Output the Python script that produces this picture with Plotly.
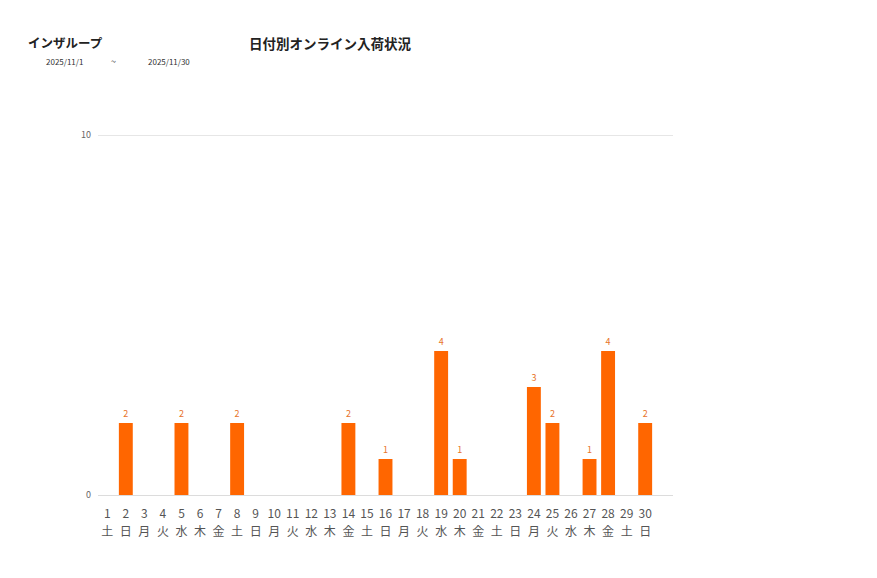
import plotly.graph_objects as go

days = list(range(1, 31))
weekdays = ["土","日","月","火","水","木","金","土","日","月","火","水","木","金","土",
            "日","月","火","水","木","金","土","日","月","火","水","木","金","土","日"]
values = [0,2,0,0,2,0,0,2,0,0,0,0,0,2,0,1,0,0,4,1,0,0,0,3,2,0,1,4,0,2]

labels = [str(v) if v > 0 else "" for v in values]

JP = "Noto Sans CJK JP"
L, R, T, B = 90, 212, 109, 91
W, H = 877, 578
fig = go.Figure()
fig.add_trace(go.Bar(
    x=days, y=values, width=0.75,
    marker=dict(color="#FF6600", line=dict(width=0)),
    text=labels, textposition="outside", cliponaxis=False,
    textfont=dict(color="#E8742A", size=9, family=JP),
    hoverinfo="skip",
))
fig.add_trace(go.Scatter(
    x=days, y=[0] * len(days), xaxis="x2", mode="markers",
    marker=dict(opacity=0, size=1), hoverinfo="skip",
))
xcommon = dict(range=[0.5, 31.5], tickmode="array", tickvals=days,
               showgrid=False, zeroline=False, showline=False, ticks="", tickangle=0)
fig.update_layout(
    width=W, height=H,
    margin=dict(l=L, r=R, t=T, b=B),
    plot_bgcolor="white", paper_bgcolor="white",
    showlegend=False,
    font=dict(family=JP, color="#555555"),
    xaxis=dict(**xcommon, ticktext=[str(d) for d in days],
               tickfont=dict(size=12, color="#555555", family=JP), ticklabelstandoff=10),
    xaxis2=dict(**xcommon, ticktext=weekdays, overlaying="x", side="bottom", anchor="y",
                tickfont=dict(size=12, color="#555555", family=JP), ticklabelstandoff=28),
    yaxis=dict(range=[0, 10.5], tickmode="array", tickvals=[0, 10], ticktext=["0", "10"],
               showgrid=True, gridcolor="#e6e6e6", gridwidth=1.3, zeroline=True,
               zerolinecolor="#dcdcdc", zerolinewidth=1.3, showline=False, ticks="",
               tickfont=dict(size=9, color="#666666", family=JP), ticklabelstandoff=6),
)
ann = [
    ("<b>インザループ</b>", 18, 35, "left", 12.5, "#222222"),
    ("<b>日付別オンライン入荷状況</b>", 239, 35, "left", 13.5, "#222222"),
    ("2025/11/1", 36, 54, "left", 8, "#333333"),
    ("~", 105, 53, "center", 9, "#333333"),
    ("2025/11/30", 138, 54, "left", 8, "#333333"),
]
pw = W - L - R
ph = H - T - B
for text, px, py, xa, size, col in ann:
    fig.add_annotation(text=text, x=(px - L) / pw, y=((H - py) - B) / ph,
                       xref="paper", yref="paper", showarrow=False,
                       xanchor=xa, yanchor="middle",
                       font=dict(size=size, color=col, family=JP))
fig.write_html("out.html")
